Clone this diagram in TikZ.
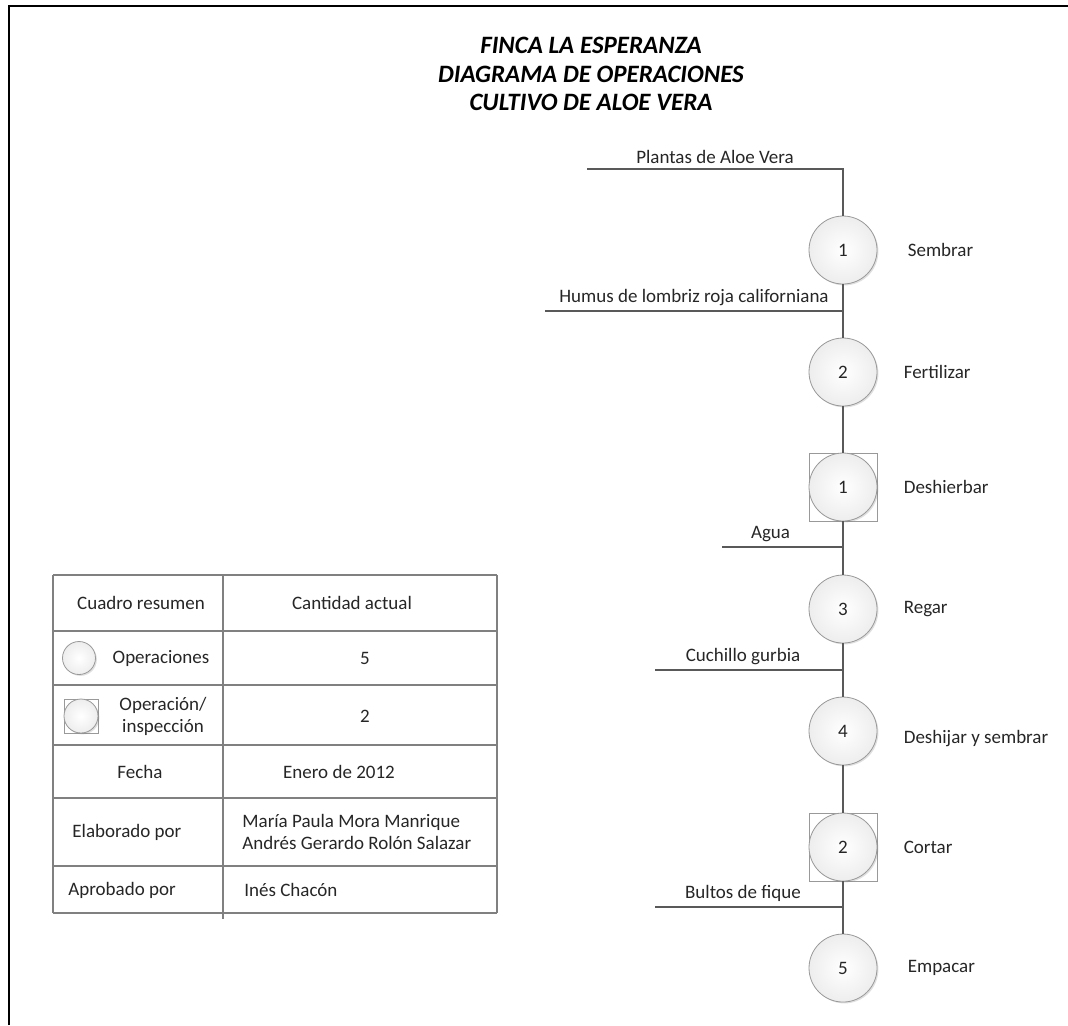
\documentclass[tikz,border=0pt]{standalone}
\usepackage{fontspec}
\setmainfont{Carlito}
\usetikzlibrary{positioning,shadows}
\definecolor{linegray}{HTML}{595959}
\definecolor{tablegray}{HTML}{808080}
\definecolor{ink}{HTML}{262626}

\begin{document}
\begin{tikzpicture}[
  x=0.5pt, y=-0.5pt,
  font=\fontsize{9.5}{11}\selectfont,
  text=ink,
  node distance=13pt,
  op/.style={
    circle,
    draw=gray!80,
    minimum size=34pt,
    inner sep=0pt,
    inner color=white,
    outer color=gray!14,
    drop shadow={shadow xshift=0.7pt,shadow yshift=-0.7pt,opacity=0.25}
  },
  opbox/.style={
    rectangle,
    draw=gray!80,
    fill=white,
    minimum size=34pt,
    inner sep=0pt,
    drop shadow={shadow xshift=0.7pt,shadow yshift=-0.7pt,opacity=0.25}
  },
  act/.style={inner sep=0pt},
  feed/.style={above,inner sep=2.5pt},
  flow/.style={draw=linegray,line width=0.65pt},
  grid/.style={draw=tablegray,line width=0.9pt},
  tcell/.style={inner sep=0pt}
]
\useasboundingbox (0,0) rectangle (1068,1025);

\draw[line width=1pt] (9,1025) -- (9,6) -- (1068,6);

\node[font=\fontsize{12.5}{14.25}\selectfont\bfseries\itshape,align=center,text=black] (titulo) at (591,74)
  {FINCA LA ESPERANZA\\DIAGRAMA DE OPERACIONES\\CULTIVO DE ALOE VERA};

\node[op] (op1) at (843,250) {1};
\node[op] (op2) at (843,372) {2};
\node[opbox] (ins1) at (843,487) {};
\node[op] (ins1c) at (ins1) {1};
\node[op] (op3) at (843,609) {3};
\node[op] (op4) at (843,731) {4};
\node[opbox] (ins2) at (843,847) {};
\node[op] (ins2c) at (ins2) {2};
\node[op] (op5) at (843,968) {5};

\node[act,right=15pt of op1] (sembrar) {Sembrar};
\node[act,right=13pt of op2] (fertilizar) {Fertilizar};
\node[act,right=13pt of ins1c] (deshierbar) {Deshierbar};
\node[act,right=13pt of op3] (regar) {Regar};
\node[act,right=13pt of op4,yshift=-4pt] (deshijar) {Deshijar y sembrar};
\node[act,right=13pt of ins2c] (cortar) {Cortar};
\node[act,right=15pt of op5] (empacar) {Empacar};

\coordinate (plantas) at (587,169);
\coordinate (humus) at (545,311);
\coordinate (agua) at (722,547);
\coordinate (cuchillo) at (655,670);
\coordinate (bultos) at (655,907);

\draw[flow] (plantas) -| node[feed,pos=0.25]{Plantas de Aloe Vera} (op1);
\draw[flow] (op1) -- (op2) -- (ins1c) -- (op3) -- (op4) -- (ins2c) -- (op5);
\draw[flow] (humus) -- node[feed]{Humus de lombriz roja californiana} (humus -| op1);
\draw[flow] (agua) -- node[feed,xshift=-6pt]{Agua} (agua -| op1);
\draw[flow] (cuchillo) -- node[feed,xshift=-3pt]{Cuchillo gurbia} (cuchillo -| op1);
\draw[flow] (bultos) -- node[feed,xshift=-3pt]{Bultos de fique} (bultos -| op1);

\foreach \ry in {575,631,685,745,798,866,913}
  \draw[grid] (53,\ry) -- (497,\ry);
\draw[grid] (53,575) -- (53,913);
\draw[grid] (223,575) -- (223,919);
\draw[grid] (497,575) -- (497,913);

\node[tcell] (cuadro) at (141,603) {Cuadro resumen};
\node[tcell] (cantidad) at (352,603) {Cantidad actual};
\node[op,minimum size=16.5pt] (iconop) at (79,658) {};
\node[tcell] (operaciones) at (161,658) {Operaciones};
\node[tcell] (nops) at (365,658) {5};
\node[opbox,minimum size=17pt] (iconbox) at (81,716) {};
\node[op,minimum size=17pt] (iconboxc) at (iconbox) {};
\node[tcell,align=center] (opinsp) at (163,716) {Operación/\\inspección};
\node[tcell] (ninsp) at (365,716) {2};
\node[tcell] (fecha) at (140,772) {Fecha};
\node[tcell] (enero) at (339,772) {Enero de 2012};
\node[tcell,anchor=west] (elaborado) at (72,832) {Elaborado por};
\node[tcell,anchor=west,align=left] (autores) at (242,832) {María Paula Mora Manrique\\Andrés Gerardo Rolón Salazar};
\node[tcell,anchor=west] (aprobado) at (68,890) {Aprobado por};
\node[tcell,anchor=west] (ines) at (244,890) {Inés Chacón};
\end{tikzpicture}
\end{document}
